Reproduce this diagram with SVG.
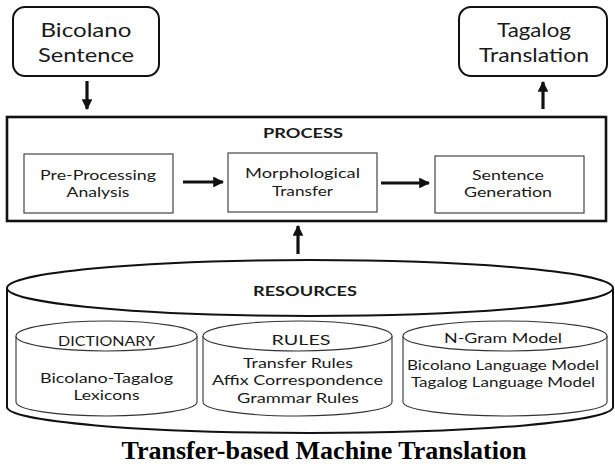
<svg xmlns="http://www.w3.org/2000/svg" width="615" height="465" viewBox="0 0 615 465">
  <defs>
    <marker id="head" viewBox="0 0 10 10" refX="9" refY="5" markerWidth="3.4" markerHeight="3.4" orient="auto" markerUnits="strokeWidth">
      <path d="M0,0 L10,5 L0,10 Z" fill="#111"/>
    </marker>
    <style>
      .io { fill: #fff; stroke: #111; stroke-width: 2; }
      .frame { fill: #fff; stroke: #111; stroke-width: 2.6; }
      .step { fill: #fff; stroke: #444; stroke-width: 1.2; }
      .big { fill: #fff; stroke: #111; stroke-width: 2; }
      .db { fill: #fff; stroke: #333; stroke-width: 1.1; }
      .flow { fill: none; stroke: #111; stroke-width: 3.2; marker-end: url(#head); }
      text { font-family: Lato, "Open Sans", "DejaVu Sans", sans-serif; fill: #1a1a1a; text-anchor: middle; }
      .t1 { font-size: 19px; }
      .t2 { font-size: 14px; }
      .t3 { font-size: 14px; }
      .hd { font-size: 14px; font-weight: bold; }
      .cap { font-family: "Liberation Serif", "Times New Roman", serif; font-size: 26px; font-weight: bold; fill: #000; }
    </style>
  </defs>

  <!-- input / output terminals -->
  <g id="bicolano-sentence">
    <rect class="io" x="13" y="7" width="146" height="69" rx="12"/>
    <text class="t1" x="86" y="37" textLength="91" lengthAdjust="spacingAndGlyphs">Bicolano</text>
    <text class="t1" x="86" y="62" textLength="96" lengthAdjust="spacingAndGlyphs">Sentence</text>
  </g>
  <g id="tagalog-translation">
    <rect class="io" x="459" y="7" width="148" height="69" rx="12"/>
    <text class="t1" x="534" y="37" textLength="74" lengthAdjust="spacingAndGlyphs">Tagalog</text>
    <text class="t1" x="534" y="62" textLength="110" lengthAdjust="spacingAndGlyphs">Translation</text>
  </g>

  <!-- process frame with its three stages -->
  <g id="process">
    <rect class="frame" x="7" y="117" width="599" height="104"/>
    <text class="hd" x="303" y="138" textLength="80" lengthAdjust="spacingAndGlyphs">PROCESS</text>
  </g>
  <g id="pre-processing">
    <rect class="step" x="24" y="154" width="149" height="59"/>
    <text class="t2" x="98" y="180" textLength="116" lengthAdjust="spacingAndGlyphs">Pre-Processing</text>
    <text class="t2" x="98" y="197" textLength="63" lengthAdjust="spacingAndGlyphs">Analysis</text>
  </g>
  <g id="morphological-transfer">
    <rect class="step" x="228" y="153" width="149" height="59"/>
    <text class="t2" x="302.5" y="178" textLength="115" lengthAdjust="spacingAndGlyphs">Morphological</text>
    <text class="t2" x="302.5" y="196" textLength="61" lengthAdjust="spacingAndGlyphs">Transfer</text>
  </g>
  <g id="sentence-generation">
    <rect class="step" x="435" y="156" width="149" height="57"/>
    <text class="t2" x="508" y="180" textLength="72" lengthAdjust="spacingAndGlyphs">Sentence</text>
    <text class="t2" x="508" y="197" textLength="88" lengthAdjust="spacingAndGlyphs">Generation</text>
  </g>

  <!-- resources store -->
  <g id="resources">
    <path class="big" d="M7,288 L7,407 A303,26 0 0 0 613,407 L613,288"/>
    <ellipse class="big" cx="310" cy="288" rx="303" ry="28"/>
    <text class="hd" x="305" y="296" textLength="104" lengthAdjust="spacingAndGlyphs">RESOURCES</text>
  </g>
  <g id="dictionary">
    <path class="db" d="M16,336 L16,402 A90.5,14 0 0 0 197,402 L197,336"/>
    <ellipse class="db" cx="106.5" cy="336" rx="90.5" ry="15"/>
    <text class="t3" x="106.5" y="346" textLength="97" lengthAdjust="spacingAndGlyphs">DICTIONARY</text>
    <text class="t3" x="106.5" y="383" textLength="133" lengthAdjust="spacingAndGlyphs">Bicolano-Tagalog</text>
    <text class="t3" x="106.5" y="400" textLength="66" lengthAdjust="spacingAndGlyphs">Lexicons</text>
  </g>
  <g id="rules">
    <path class="db" d="M203,336 L203,402 A94.5,14 0 0 0 392,402 L392,336"/>
    <ellipse class="db" cx="297.5" cy="336" rx="94.5" ry="15"/>
    <text class="t3" x="301" y="345" textLength="59" lengthAdjust="spacingAndGlyphs">RULES</text>
    <text class="t3" x="298" y="368" textLength="110" lengthAdjust="spacingAndGlyphs">Transfer Rules</text>
    <text class="t3" x="297.5" y="385" textLength="171" lengthAdjust="spacingAndGlyphs">Affix Correspondence</text>
    <text class="t3" x="298" y="403" textLength="122" lengthAdjust="spacingAndGlyphs">Grammar Rules</text>
  </g>
  <g id="n-gram-model">
    <path class="db" d="M403,336 L403,402 A102,14 0 0 0 607,402 L607,336"/>
    <ellipse class="db" cx="505" cy="336" rx="102" ry="15"/>
    <text class="t3" x="503" y="343" textLength="118" lengthAdjust="spacingAndGlyphs">N-Gram Model</text>
    <text class="t3" x="503" y="370" textLength="192" lengthAdjust="spacingAndGlyphs">Bicolano Language Model</text>
    <text class="t3" x="503" y="387" textLength="184" lengthAdjust="spacingAndGlyphs">Tagalog Language Model</text>
  </g>

  <!-- data flow -->
  <g id="connectors">
    <line class="flow" x1="87" y1="81" x2="87" y2="109"/>
    <line class="flow" x1="543" y1="109" x2="543" y2="82"/>
    <line class="flow" x1="183" y1="182" x2="223" y2="182"/>
    <line class="flow" x1="381" y1="183" x2="429" y2="183"/>
    <line class="flow" x1="298" y1="254" x2="298" y2="226"/>
  </g>

  <text class="cap" x="324" y="459">Transfer-based Machine Translation</text>
</svg>
